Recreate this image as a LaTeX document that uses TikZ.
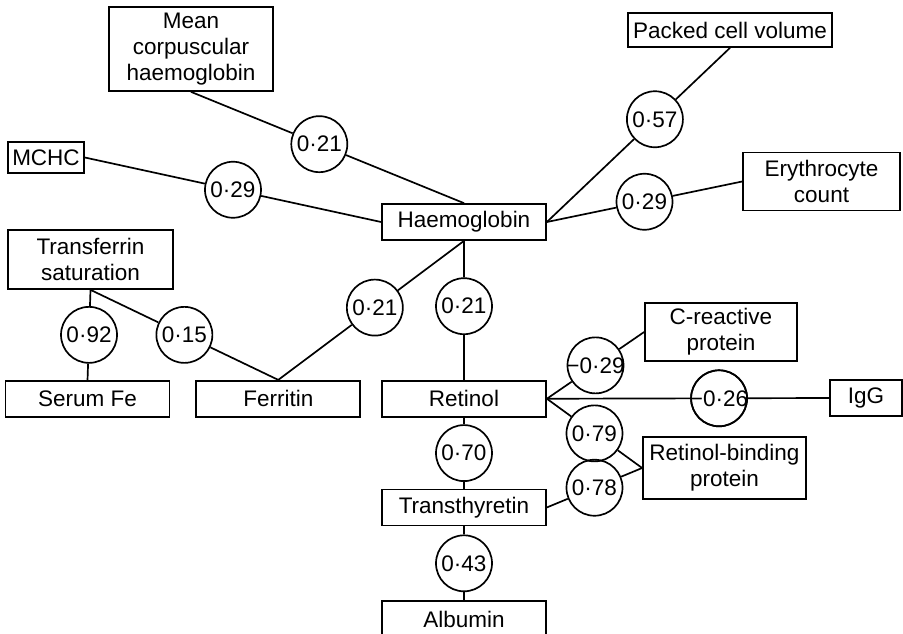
\documentclass[tikz,border=0pt]{standalone}
\usepackage{fontspec}
\setmainfont{Liberation Sans}
\usetikzlibrary{positioning, calc}

\newcommand{\rval}[1]{\makebox[0pt]{#1}}

\begin{document}
\begin{tikzpicture}[
    x=0.025cm, y=-0.025cm,
    font=\fontsize{16pt}{18.5pt}\selectfont,
    line width=1.2pt,
    box/.style={
        rectangle, draw, fill=white, align=center,
        minimum width=41mm, minimum height=9mm, inner sep=1mm
    },
    twobox/.style={box, minimum height=14.5mm},
    corr/.style={
        circle, draw, minimum size=14mm, inner sep=0mm
    },
]
    \useasboundingbox (0,0) rectangle (903,633);

    % Hauptsaeule
    \node[box]                          (hb)       at (464,222) {Haemoglobin};
    \node[box, below=34.75mm of hb]     (retinol)  {Retinol};
    \node[box, below=17.75mm of retinol] (trans)   {Transthyretin};
    \node[box, below=18.5mm of trans]   (albumin)  {Albumin};
    \node[box, left=5mm of retinol]     (ferritin) {Ferritin};
    \node[box, left=6.25mm of ferritin] (serumfe)  {Serum Fe};

    % Blutbild
    \node[box, minimum height=21mm]     (mch)  at (191,49)  {Mean\\corpuscular\\haemoglobin};
    \node[box, minimum width=19mm, minimum height=7.75mm] (mchc) at (46,157.5) {MCHC};
    \node[box, minimum width=51mm, minimum height=8.5mm]  (pcv)  at (730,30)   {Packed cell volume};
    \node[twobox, minimum width=39.25mm] (eryth) at (821.5,181.5) {Erythrocyte\\count};
    \node[twobox, minimum width=41.25mm, minimum height=14.75mm] (ts) at (90.5,259.5) {Transferrin\\saturation};

    % Proteine
    \node[twobox, minimum width=38mm]   (crp) at (721,332)   {C-reactive\\protein};
    \node[box, minimum width=18mm]      (igg) at (866,398)   {IgG};
    \node[twobox, minimum width=40.75mm, minimum height=15.5mm] (rbp) at (724.5,468) {Retinol-binding\\protein};

    % Korrelationskreise
    \node[corr] (rmch)  at ($(mch.south)!0.47!(hb.north)$)        {\rval{0·21}};
    \node[corr] (rmchc) at ($(mchc.east)!0.5!(hb.west)$)          {\rval{0·29}};
    \node[corr] (rpcv)  at ($(hb.east)!0.59!(pcv.south)$)         {\rval{0·57}};
    \node[corr] (rery)  at ($(hb.east)!0.5!(eryth.west)$)         {\rval{0·29}};
    \node[corr] (rfer)  at ($(hb.south)!0.48!(ferritin.north)$)   {\rval{0·21}};
    \node[corr] (rret)  at ($(hb.south)!0.47!(retinol.north)$)    {\rval{0·21}};
    \node[corr] (rsfe)  at ($(ts.south)!0.5!(serumfe.north)$)     {\rval{0·92}};
    \node[corr] (rtsf)  at ($(ts.south)!0.5!(ferritin.north)$)    {\rval{0·15}};
    \node[corr] (rcrp)  at ($(retinol.east)!0.5!(crp.west)$)      {\rval{−0·29}};
    \node[corr] (rigg)  at ($(retinol.east)!0.61!(igg.west)$)     {\rval{−0·26}};
    \node[corr] (rrbp)  at ($(retinol.east)!0.5!(rbp.west)$)      {\rval{0·79}};
    \node[corr] (rtrb)  at ($(trans.east)!0.5!(rbp.west)$)        {\rval{0·78}};
    \node[corr] (rtra)  at ($(retinol.south)!0.5!(trans.north)$)  {\rval{0·70}};
    \node[corr] (ralb)  at ($(trans.south)!0.5!(albumin.north)$)  {\rval{0·43}};

    % Verbindungen
    \draw (mch.south)     -- (rmch)  -- (hb.north);
    \draw (mchc.east)     -- (rmchc) -- (hb.west);
    \draw (hb.east)       -- (rpcv)  -- (pcv.south);
    \draw (hb.east)       -- (rery)  -- (eryth.west);
    \draw (hb.south)      -- (rfer)  -- (ferritin.north);
    \draw (hb.south)      -- (rret)  -- (retinol.north);
    \draw (ts.south)      -- (rsfe)  -- (serumfe.north);
    \draw (ts.south)      -- (rtsf)  -- (ferritin.north);
    \draw (retinol.east)  -- (rcrp)  -- (crp.west);
    \draw (retinol.east)  -- (rigg)  -- (igg.west);
    \draw (retinol.east)  -- (rrbp)  -- (rbp.west);
    \draw (trans.east)    -- (rtrb)  -- (rbp.west);
    \draw (retinol.south) -- (rtra)  -- (trans.north);
    \draw (trans.south)   -- (ralb)  -- (albumin.north);

    % Kreis um -0.26 nochmals nachziehen
    \draw (rigg.center) circle (7mm);

\end{tikzpicture}
\end{document}
